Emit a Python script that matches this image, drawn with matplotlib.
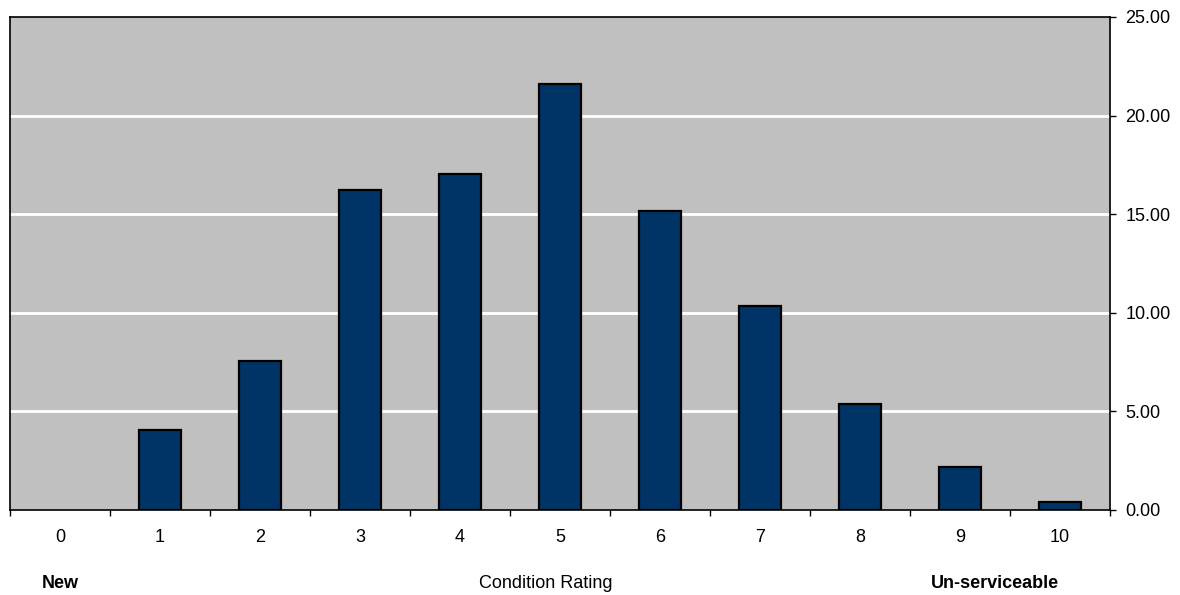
import numpy as np
import matplotlib.pyplot as plt
from matplotlib.ticker import FixedLocator

plt.rcParams['font.family'] = ['Liberation Sans', 'DejaVu Sans']

# condition rating distribution (%)
ratings = [0, 1, 2, 3, 4, 5, 6, 7, 8, 9, 10]
rating_labels = [str(r) for r in ratings]
percent = [0.0, 4.06, 7.56, 16.23, 17.04, 21.62, 15.18, 10.34, 5.38, 2.17, 0.41]
y_ticks = [0, 5, 10, 15, 20, 25]

fig = plt.figure(figsize=(11.8, 5.95), dpi=100)
ax = fig.add_axes([10 / 1180, 85 / 595, 1100 / 1180, 493 / 595])
ax.set_facecolor('#C0C0C0')

x = np.arange(len(ratings))
# no outline on empty categories
edge_w = [1.6 if v > 0 else 0 for v in percent]
ax.bar(x, percent, width=0.42, color='#003366', edgecolor='black',
       linewidth=edge_w, zorder=3)

ax.set_xlim(-0.5, len(ratings) - 0.5)
ax.set_ylim(0, 25)

# white gridlines
for v in y_ticks[1:-1]:
    ax.axhline(v, color='white', linewidth=2, zorder=1)

# x axis: labels at the centres, tick marks between categories
ax.set_xticks(x)
ax.set_xticklabels(rating_labels, fontsize=13)
ax.xaxis.set_minor_locator(FixedLocator(np.arange(-0.5, len(ratings), 1.0)))
ax.tick_params(axis='x', which='major', length=0, pad=14)
ax.tick_params(axis='x', which='minor', length=4, width=1, color='black')

# y axis on the right
ax.yaxis.tick_right()
ax.set_yticks(y_ticks)
ax.set_yticklabels([f'{v:.2f}' for v in y_ticks], fontsize=13)
ax.tick_params(axis='y', length=4, width=1, pad=7)

for s in ax.spines.values():
    s.set_color('black')
    s.set_linewidth(1.2)

fig.text(60 / 1180, 1 - 583 / 595, 'New', ha='center', va='center',
         fontsize=13, fontweight='bold')
fig.text(546 / 1180, 1 - 583 / 595, 'Condition Rating', ha='center', va='center',
         fontsize=13)
fig.text(995 / 1180, 1 - 583 / 595, 'Un-serviceable', ha='center', va='center',
         fontsize=13, fontweight='bold')

fig.savefig('out.png', dpi=100)
